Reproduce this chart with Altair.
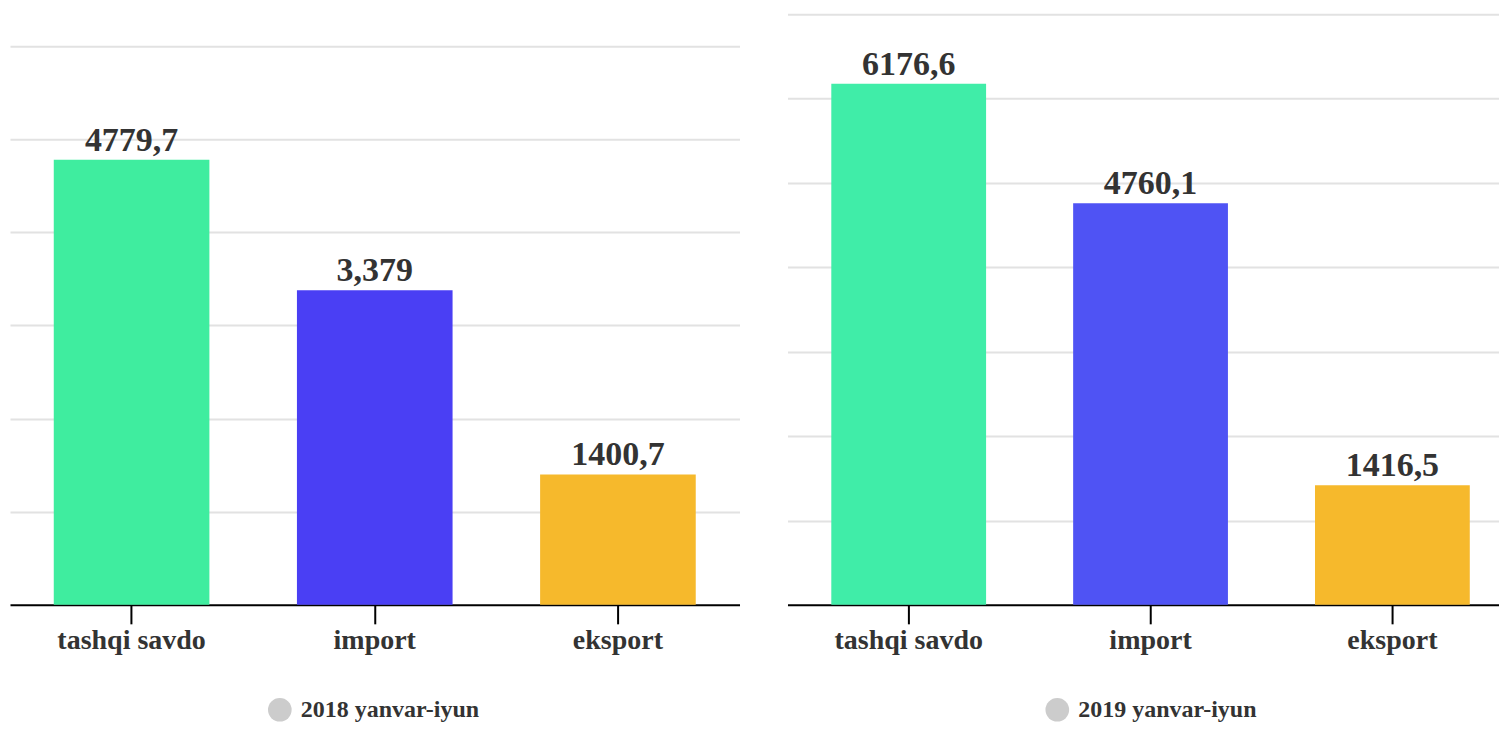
import altair as alt
import pandas as pd

categories = ["tashqi savdo", "import", "eksport"]

period_2018 = "2018 yanvar-iyun"
values_2018 = [4779.7, 3379.0, 1400.7]
labels_2018 = ["4779,7", "3,379", "1400,7"]
colors_2018 = ["#3FED9F", "#4A3FF4", "#F6B92C"]

period_2019 = "2019 yanvar-iyun"
values_2019 = [6176.6, 4760.1, 1416.5]
labels_2019 = ["6176,6", "4760,1", "1416,5"]
colors_2019 = ["#40EDA8", "#4F53F4", "#F6B92C"]

grid_2018 = [1000, 2000, 3000, 4000, 5000, 6000]
grid_2019 = [1000, 2000, 3000, 4000, 5000, 6000, 7000]

FONT = "Liberation Serif"
TXT = "#333333"


def panel(period, values, labels, colors, grid, ymax, width, pad_outer, align):
    df = pd.DataFrame({
        "cat": categories,
        "val": values,
        "lab": labels,
        "period": [period] * len(categories),
    })
    x = alt.X(
        "cat:N",
        sort=categories,
        scale=alt.Scale(paddingInner=0.36, paddingOuter=pad_outer, align=align),
        axis=alt.Axis(
            title=None, labelAngle=0, labelFont=FONT, labelFontWeight="bold",
            labelFontSize=28, labelColor=TXT, labelPadding=3,
            tickSize=19, tickWidth=2, tickColor="#000000",
            domainColor="#000000", domainWidth=2, grid=False,
        ),
    )
    y = alt.Y(
        "val:Q",
        scale=alt.Scale(domain=[0, ymax], nice=False),
        axis=alt.Axis(
            title=None, labels=False, ticks=False, domain=False,
            grid=True, values=grid, gridColor="#e2e2e2", gridWidth=2,
        ),
    )
    base = alt.Chart(df)
    bars = base.mark_bar().encode(
        x=x, y=y,
        color=alt.Color("cat:N", scale=alt.Scale(domain=categories, range=colors), legend=None),
    )
    text = base.mark_text(
        font=FONT, fontWeight="bold", fontSize=34, color=TXT,
        baseline="alphabetic", dy=-9,
    ).encode(x=x, y=y, text="lab:N")
    legend_pts = base.mark_point(filled=True, opacity=0, color="#cccccc").encode(
        x=x, y=y,
        shape=alt.Shape(
            "period:N",
            scale=alt.Scale(range=["circle"]),
            legend=alt.Legend(
                title=None, orient="none", legendX=258, legendY=684,
                labelFont=FONT, labelFontWeight="bold", labelFontSize=24,
                labelColor=TXT, labelLimit=0, labelOffset=9,
                symbolSize=560, symbolOpacity=1,
                symbolFillColor="#cccccc", symbolStrokeWidth=0,
            ),
        ),
    )
    return alt.layer(bars, text, legend_pts).properties(width=width, height=591)


left = panel(period_2018, values_2018, labels_2018, colors_2018, grid_2018, 6343, 730, 0.18, 0.5)
right = panel(period_2019, values_2019, labels_2019, colors_2019, grid_2019, 7000, 712, 0.151, 0.6)

chart = (
    alt.hconcat(left, right, spacing=48)
    .resolve_scale(color="independent", shape="independent", x="independent", y="independent")
    .resolve_legend(shape="independent")
    .properties(padding={"left": 2, "top": 6, "right": 0, "bottom": 0}, background="#ffffff")
    .configure_view(stroke=None)
)

chart.save("out.html", embed_options={"renderer": "svg", "actions": False})
